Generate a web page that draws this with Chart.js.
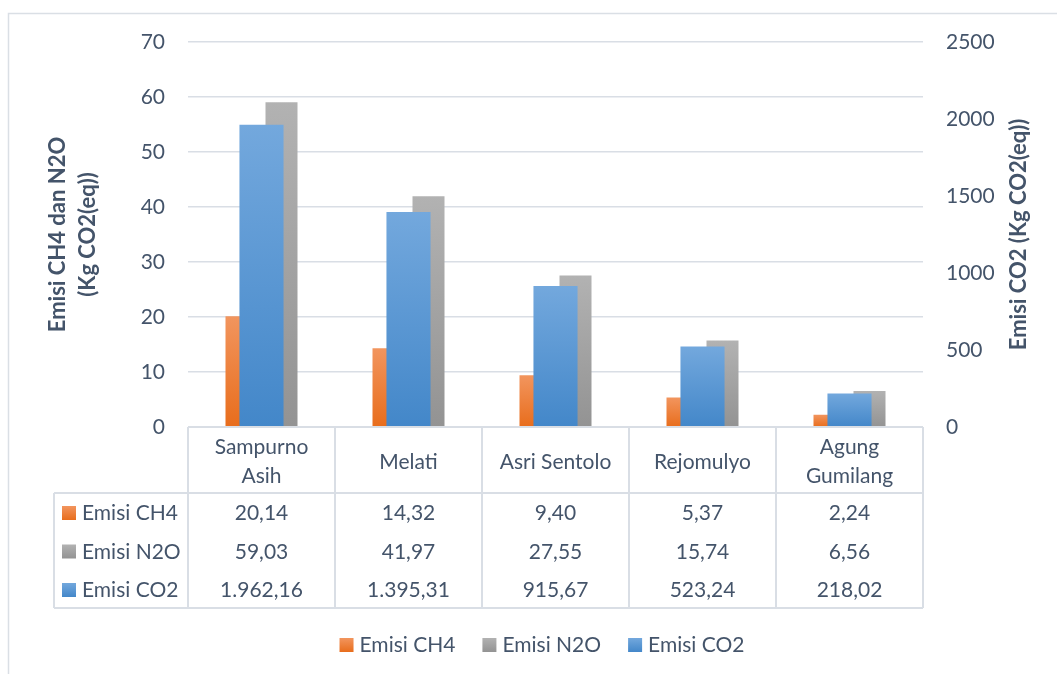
<!DOCTYPE html>
<html>
<head>
<meta charset="utf-8">
<title>Emisi CH4, N2O dan CO2</title>
<script src="https://cdn.jsdelivr.net/npm/chart.js@4.4.1/dist/chart.umd.min.js"></script>
<style>
  html, body { margin: 0; padding: 0; background: #ffffff; overflow: hidden; }
  #wrap { width: 1057px; height: 674px; position: relative; }
</style>
</head>
<body>
<div id="wrap"><canvas id="chart"></canvas></div>
<script>
// Locations (wrapped header text in the data table)
const categories = [['Sampurno', 'Asih'], ['Melati'], ['Asri Sentolo'], ['Rejomulyo'], ['Agung', 'Gumilang']];
const seriesNames = ['Emisi CH4', 'Emisi N2O', 'Emisi CO2'];

// Emission values, Kg CO2(eq)
const ch4 = [20.14, 14.32, 9.40, 5.37, 2.24];
const n2o = [59.03, 41.97, 27.55, 15.74, 6.56];
const co2 = [1962.16, 1395.31, 915.67, 523.24, 218.02];

// Axis ranges
const leftAxis = { min: 0, max: 70, step: 10 };
const rightAxis = { min: 0, max: 2500, step: 500 };

const leftTitle = ['Emisi CH4 dan N2O', '(Kg CO2(eq))'];
const rightTitle = 'Emisi CO2 (Kg CO2(eq))';

const TEXT = '#44546A';
const GRID = '#d9dee5';
const FONT = 'Lato, "Open Sans", sans-serif';

// Gradient stops (top, bottom) per series
const fills = {
  ch4: ['#f2955e', '#e86d1c'],
  n2o: ['#b2b2b2', '#939393'],
  co2: ['#73a8dd', '#4387c9']
};

// Indonesian number format: 1.962,16
function fmtID(v) {
  const parts = v.toFixed(2).split('.');
  return parts[0].replace(/\B(?=(\d{3})+(?!\d))/g, '.') + ',' + parts[1];
}

// Vertical gradient spanning each bar from its top to the zero line
function barFill(stops, axisId) {
  return (ctx) => {
    const chart = ctx.chart;
    const sc = chart.scales[axisId];
    if (!sc || ctx.type !== 'data') return stops[1];
    const yBase = sc.getPixelForValue(0);
    const yTop = sc.getPixelForValue(ctx.raw);
    if (!isFinite(yBase) || !isFinite(yTop) || yBase === yTop) return stops[1];
    const g = chart.ctx.createLinearGradient(0, yTop, 0, yBase);
    g.addColorStop(0, stops[0]);
    g.addColorStop(1, stops[1]);
    return g;
  };
}

function keySquare(c, x, y, size, stops) {
  const g = c.createLinearGradient(0, y, 0, y + size);
  g.addColorStop(0, stops[0]);
  g.addColorStop(1, stops[1]);
  c.fillStyle = g;
  c.fillRect(x, y, size, size);
}

const keyStops = [fills.ch4, fills.n2o, fills.co2];
const tableValues = [ch4, n2o, co2];

// Frame, axis titles, data table and legend
const decorations = {
  id: 'decorations',
  afterDraw(chart) {
    const c = chart.ctx;
    const area = chart.chartArea;
    const catW = (area.right - area.left) / categories.length;
    c.save();

    // outer frame
    c.strokeStyle = '#dadfe5';
    c.lineWidth = 1.5;
    c.strokeRect(8.5, 13.5, 1100, 700);

    // axis titles
    c.fillStyle = TEXT;
    c.font = 'bold 22px ' + FONT;
    c.textAlign = 'center';
    c.textBaseline = 'alphabetic';
    const midY = (area.top + area.bottom) / 2;
    [[leftTitle[0], 65], [leftTitle[1], 95], [rightTitle, 1026]].forEach(([t, x]) => {
      c.save();
      c.translate(x, midY);
      c.rotate(-Math.PI / 2);
      c.fillText(t, 0, 0);
      c.restore();
    });

    // data table
    const tLeft = 54, tTop = area.bottom, hdrBottom = 493, tBottom = 608;
    c.strokeStyle = GRID;
    c.lineWidth = 2;
    c.beginPath();
    c.moveTo(area.left, tTop); c.lineTo(area.right, tTop);
    c.moveTo(tLeft, hdrBottom); c.lineTo(area.right, hdrBottom);
    c.moveTo(tLeft, tBottom); c.lineTo(area.right, tBottom);
    c.moveTo(tLeft, hdrBottom); c.lineTo(tLeft, tBottom);
    for (let i = 0; i <= categories.length; i++) {
      const x = area.left + i * catW;
      c.moveTo(x, tTop); c.lineTo(x, tBottom);
    }
    c.stroke();

    c.font = '21px ' + FONT;
    c.fillStyle = TEXT;
    c.textAlign = 'center';
    categories.forEach((lines, i) => {
      const cx = area.left + (i + 0.5) * catW;
      if (lines.length === 1) {
        c.fillText(lines[0], cx, 468.5);
      } else {
        c.fillText(lines[0], cx, 454);
        c.fillText(lines[1], cx, 483);
      }
    });

    const rowBase = [520, 558.5, 597];
    seriesNames.forEach((name, r) => {
      keySquare(c, 62, rowBase[r] - 14, 14, keyStops[r]);
      c.fillStyle = TEXT;
      c.textAlign = 'left';
      c.fillText(name, 82, rowBase[r]);
      c.textAlign = 'center';
      tableValues[r].forEach((v, i) => {
        c.fillText(fmtID(v), area.left + (i + 0.5) * catW, rowBase[r]);
      });
    });

    // legend
    const keySize = 14, keyGap = 6, itemGap = 27;
    const widths = seriesNames.map(n => keySize + keyGap + c.measureText(n).width);
    const total = widths.reduce((a, b) => a + b, 0) + itemGap * (widths.length - 1);
    let x = 542 - total / 2;
    const legBase = 652;
    seriesNames.forEach((n, i) => {
      keySquare(c, x, legBase - 14, keySize, keyStops[i]);
      c.fillStyle = TEXT;
      c.textAlign = 'left';
      c.fillText(n, x + keySize + keyGap, legBase);
      x += widths[i] + itemGap;
    });

    c.restore();
  }
};

const labels = categories.map(l => l.join(' '));
const plainTick = (v) => String(v);

new Chart(document.getElementById('chart'), {
  type: 'bar',
  data: {
    labels: labels,
    datasets: [
      {
        label: seriesNames[0], data: ch4, yAxisID: 'y',
        backgroundColor: barFill(fills.ch4, 'y'),
        categoryPercentage: 80 / 147, barPercentage: 0.8, order: 1
      },
      {
        label: seriesNames[1], data: n2o, yAxisID: 'y',
        backgroundColor: barFill(fills.n2o, 'y'),
        categoryPercentage: 80 / 147, barPercentage: 0.8, order: 1
      },
      {
        // secondary-axis series drawn centred over each category, in front
        label: seriesNames[2], data: co2, yAxisID: 'y1', grouped: false,
        backgroundColor: barFill(fills.co2, 'y1'),
        categoryPercentage: 0.3, barPercentage: 1, order: 0
      }
    ]
  },
  options: {
    responsive: true,
    maintainAspectRatio: false,
    animation: false,
    devicePixelRatio: 1,
    layout: { padding: { top: 42, bottom: 247, left: 0, right: 0 } },
    plugins: { legend: { display: false }, tooltip: { enabled: false } },
    scales: {
      x: { type: 'category', display: false, offset: true },
      y: {
        position: 'left',
        min: leftAxis.min, max: leftAxis.max,
        ticks: { stepSize: leftAxis.step, padding: 23, color: TEXT, font: { family: FONT, size: 21 }, callback: plainTick },
        grid: { color: GRID, lineWidth: 1.5, drawTicks: false },
        border: { display: false },
        afterFit(s) { s.width = 188; }
      },
      y1: {
        position: 'right',
        min: rightAxis.min, max: rightAxis.max,
        ticks: { stepSize: rightAxis.step, padding: 23, color: TEXT, font: { family: FONT, size: 21 }, callback: plainTick },
        grid: { display: false, drawTicks: false },
        border: { display: false },
        afterFit(s) { s.width = 134; }
      }
    }
  },
  plugins: [decorations]
});
</script>
</body>
</html>
